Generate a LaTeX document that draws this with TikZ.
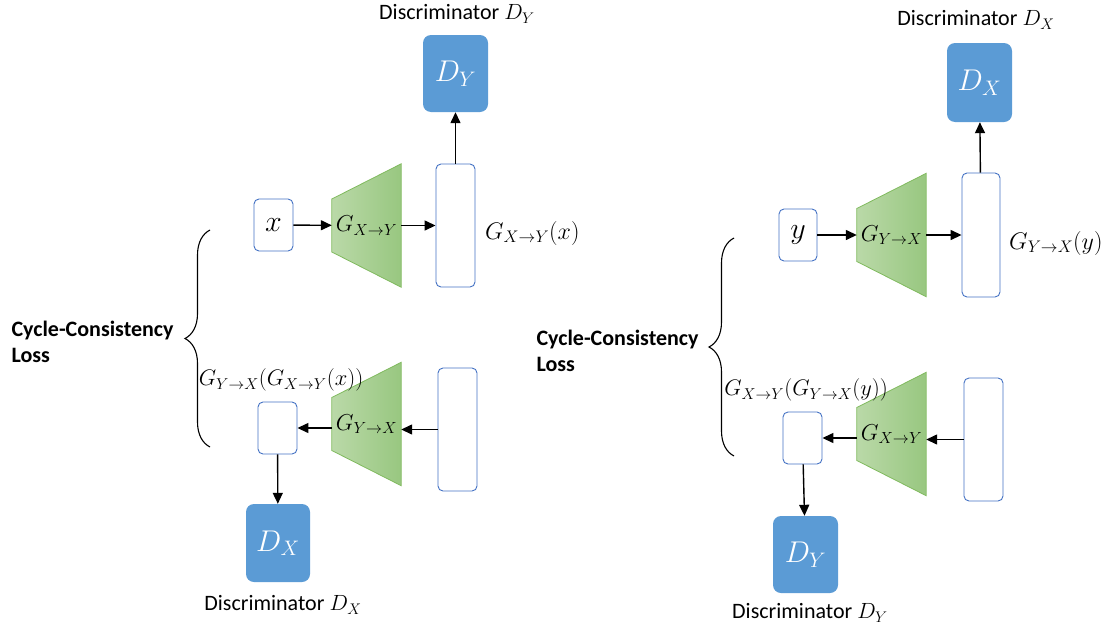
\RequirePackage{fix-cm}
\documentclass[tikz,border=0pt]{standalone}
\usepackage{fontspec}
\setmainfont{Carlito}
\usetikzlibrary{arrows.meta,positioning,backgrounds,decorations.pathreplacing}
\definecolor{dBlue}{RGB}{91,155,213}
\definecolor{bLine}{RGB}{68,114,196}
\definecolor{gLight}{RGB}{186,217,168}
\definecolor{gDark}{RGB}{152,199,128}
\definecolor{gLine}{RGB}{128,186,94}
\newcommand{\genblock}[3]{%
  \node[gen] (#1) at (#2) {#3};
  \begin{scope}[on background layer]
  \draw[gLine,line width=0.8pt,left color=gLight,right color=gDark]
    (#1.north east) -- (#1.south east) -- ([yshift=-26.5pt]#1.west) -- ([yshift=26.5pt]#1.west) -- cycle;
  \end{scope}}

\begin{document}
\begin{tikzpicture}[x=1pt,y=-1pt,font=\fontsize{22}{26}\selectfont,
  disc/.style={fill=dBlue,text=white,rounded corners=8pt,minimum width=65pt,minimum height=77pt,
               inner sep=0pt,font=\fontsize{30}{32}\selectfont},
  vec/.style={draw=bLine,fill=white,rounded corners=5pt,line width=0.9pt,minimum width=39pt,
              inner sep=0pt,font=\fontsize{30}{32}\selectfont},
  gen/.style={minimum width=69pt,minimum height=123pt,inner sep=0pt,font=\fontsize{23}{26}\selectfont},
  fl/.style={-{Triangle[length=11pt,width=10pt]},line width=1.4pt},
  lab/.style={font=\fontsize{24}{26}\selectfont,inner sep=0pt},
  brc/.style={decorate,decoration={brace,amplitude=25pt},line width=1.1pt}]
\useasboundingbox (0,0) rectangle (1107,632);
% ---- left: x -> y -> x
\node (tY1) at (457,14) {Discriminator $D_Y$};
\node[disc] (dY1) at (455.5,73.5) {$D_Y$};
\node[vec,minimum height=52pt] (xin) at (273.5,225) {$x$};
\genblock{g1}{366.5,225.5}{$G_{X\rightarrow Y}$}
\node[vec,minimum height=123pt] (out1) at (455.5,225.5) {};
\node[lab,anchor=west] (lOut1) at (485,233) {$G_{X\rightarrow Y}(x)$};
\genblock{g2}{366.5,424}{$G_{Y\rightarrow X}$}
\node[vec,minimum height=123pt] (in2) at (457.5,429.5) {};
\node[vec,minimum height=52pt] (rec1) at (277.5,428) {};
\node[lab,font=\fontsize{22.5}{26}\selectfont] (lRec1) at (281,380) {$G_{Y\rightarrow X}(G_{X\rightarrow Y}(x))$};
\node[disc,minimum width=64pt,minimum height=78pt] (dX1) at (278,543) {$D_X$};
\node (tX1) at (283,605) {Discriminator $D_X$};
\coordinate (bT1) at (210,230);
\coordinate (bB1) at (210,447);
\draw[brc] (bB1) -- (bT1);
\node[font=\bfseries\fontsize{22}{26}\selectfont,align=left,anchor=west] (cc1) at (8,342) {Cycle-Consistency\\Loss};
% ---- right: y -> x -> y
\node (tX2) at (976,20) {Discriminator $D_X$};
\node[disc,minimum height=79pt] (dX2) at (979.5,82.5) {$D_X$};
\node[vec,minimum width=38pt,minimum height=52pt] (yin) at (798,235) {$y$};
\genblock{g3}{891.5,235}{$G_{Y\rightarrow X}$}
\node[vec,minimum width=38pt,minimum height=124pt] (out2) at (981,235) {};
\node[lab,anchor=west] (lOut2) at (1009,243) {$G_{Y\rightarrow X}(y)$};
\genblock{g4}{891.5,434}{$G_{X\rightarrow Y}$}
\node[vec,minimum height=123pt] (in4) at (983.5,439.5) {};
\node[vec,minimum height=52pt] (rec2) at (802.5,438) {};
\node[lab,font=\fontsize{22.5}{26}\selectfont] (lRec2) at (806,390) {$G_{X\rightarrow Y}(G_{Y\rightarrow X}(y))$};
\node[disc] (dY2) at (805.5,554.5) {$D_Y$};
\node (tY2) at (810,613) {Discriminator $D_Y$};
\coordinate (bT2) at (734,238);
\coordinate (bB2) at (734,456);
\draw[brc] (bB2) -- (bT2);
\node[font=\bfseries\fontsize{22}{26}\selectfont,align=left,anchor=west] (cc2) at (533,351) {Cycle-Consistency\\Loss};
% ---- flows
\draw[fl] (xin) -- (g1);
\draw[fl] (g1) -- (out1);
\draw[fl] (out1) -- (dY1);
\draw[fl] (in2.west) -- (in2.west -| g2.east);
\draw[fl] (rec1.east -| g2.west) -- (rec1.east);
\draw[fl] (rec1) -- (dX1);
\draw[fl] (yin) -- (g3);
\draw[fl] (g3) -- (out2);
\draw[fl] (out2) -- (dX2);
\draw[fl] (in4.west) -- (in4.west -| g4.east);
\draw[fl] (rec2.east -| g4.west) -- (rec2.east);
\draw[fl] (rec2) -- (dY2);
\end{tikzpicture}
\end{document}
